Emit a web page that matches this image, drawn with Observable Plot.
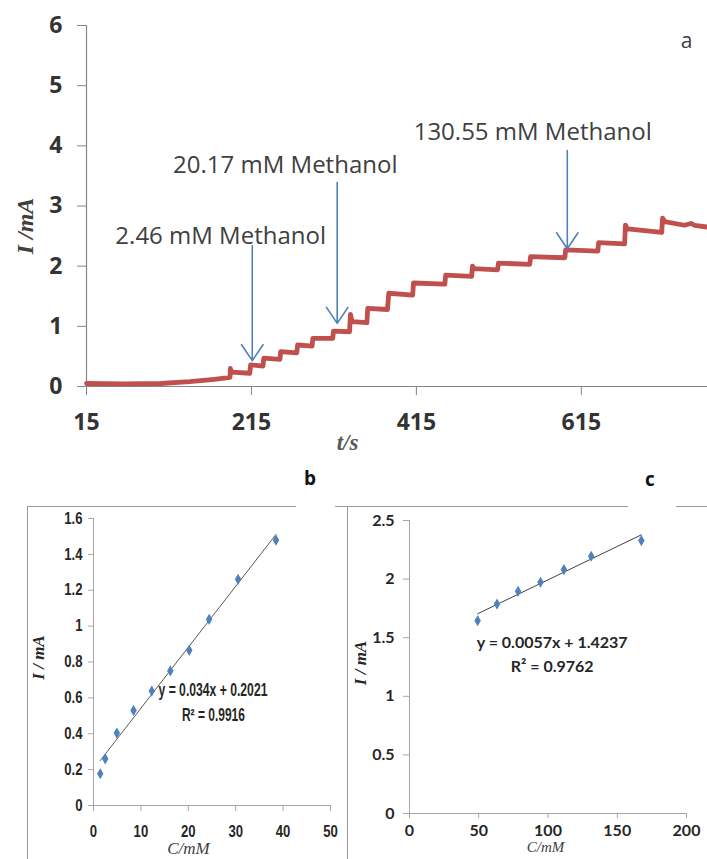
<!DOCTYPE html>
<html><head><meta charset="utf-8">
<script src="https://cdn.jsdelivr.net/npm/d3@7"></script>
<script src="https://cdn.jsdelivr.net/npm/@observablehq/plot@0.6"></script>
<style>
body{margin:0;background:#fff;}
#root{position:relative;width:707px;height:859px;overflow:hidden;background:#fff;}
.pa{position:absolute;}
.hl{position:absolute;height:1px;background:#9a9a9a;}
.vl{position:absolute;width:1px;background:#9a9a9a;}
.letter{position:absolute;font:bold 19px "Open Sans",sans-serif;color:#111;transform:translate(-50%,-50%);line-height:1;}
</style></head><body><div id="root"></div>
<script>
// ---------- Panel a: amperometric trace ----------
const traceTime = [15,60,105,140,170,189,189.5,191,213,214,229,230,249.5,250.5,270,271,288.5,289.5,313.5,314.5,334,335,337,355,356,380,381.5,410.5,411.5,449.5,450.5,482,483,485,513.5,514.5,552.5,553.5,595,596,635,636,667.5,668.5,671,712.5,713.5,716,740,748,752,768];
const traceCurrent = [0.05,0.045,0.05,0.08,0.12,0.15,0.30,0.24,0.22,0.36,0.34,0.47,0.45,0.58,0.56,0.69,0.67,0.80,0.80,0.92,0.91,1.20,1.08,1.06,1.30,1.28,1.55,1.52,1.72,1.70,1.85,1.83,2.00,1.96,1.94,2.05,2.03,2.16,2.14,2.27,2.25,2.39,2.37,2.68,2.62,2.56,2.80,2.74,2.68,2.71,2.68,2.65];
const timeTicks = [15,215,415,615];
const currentTicksA = [0,1,2,3,4,5,6];

const annotLabels = ["2.46 mM Methanol","20.17 mM Methanol","130.55 mM Methanol"];
const annotArrowTime = [216,319,598];
const annotTailCurrent = [2.34,3.39,3.92];
const annotTipCurrent = [0.43,1.05,2.29];
const annotTextTime = [50,120,411.7];
const annotTextCurrent = [2.49,3.67,4.22];

// ---------- Panel b: calibration 1.42-38.5 mM ----------
const concB = [1.42,2.47,4.93,8.45,12.3,16.2,20.2,24.4,30.5,38.5];
const currentB = [0.177,0.26,0.404,0.53,0.638,0.75,0.865,1.038,1.261,1.479];
const slopeB = 0.034, interceptB = 0.2021;
const eqB = ["y = 0.034x + 0.2021","R² = 0.9916"];
const xTicksB = [0,10,20,30,40,50];
const yTicksB = [0,0.2,0.4,0.6,0.8,1,1.2,1.4,1.6];

// ---------- Panel c: calibration 49-167 mM ----------
const concC = [49.2,63.2,78.4,94.6,111.5,131.2,167.4];
const currentC = [1.645,1.787,1.896,1.973,2.081,2.195,2.329];
const slopeC = 0.0057, interceptC = 1.4237;
const eqC = ["y = 0.0057x + 1.4237","R² = 0.9762"];
const xTicksC = [0,50,100,150,200];
const yTicksC = [0,0.5,1,1.5,2,2.5];

const root = document.getElementById("root");
function place(el, left, top){ el.classList.add("pa"); el.style.left=left+"px"; el.style.top=top+"px"; root.appendChild(el); }
const fmt = d => String(d);

// Panel a
const trace = traceTime.map((t,i)=>({t, I: traceCurrent[i]}));
const annots = annotLabels.map((label,i)=>({label, t: annotArrowTime[i], tail: annotTailCurrent[i], tip: annotTipCurrent[i], tt: annotTextTime[i], ti: annotTextCurrent[i]}));
const axisGrayA = "#868686";
const plotA = Plot.plot({
  width: 707, height: 460,
  marginLeft: 86, marginRight: 0, marginTop: 25, marginBottom: 74,
  x: {domain: [15, 768]},
  y: {domain: [0, 6]},
  style: {fontFamily: '"Open Sans", sans-serif', fontSize: "23px", fontWeight: "bold", color: "#333", background: "transparent", overflow: "visible"},
  marks: [
    Plot.ruleY([0], {stroke: axisGrayA, strokeWidth: 1.2}),
    Plot.ruleX([15], {stroke: axisGrayA, strokeWidth: 1.2}),
    Plot.axisY({ticks: currentTicksA, tickFormat: fmt, tickSize: 9, tickPadding: 15, stroke: axisGrayA, fill: "#333", label: null}),
    Plot.axisX({ticks: timeTicks, tickFormat: fmt, tickSize: 9, tickPadding: 18, stroke: axisGrayA, fill: "#333", label: null}),
    Plot.line(trace, {x: "t", y: "I", stroke: "#c0504d", strokeWidth: 4.8, strokeLinejoin: "round"}),
    Plot.arrow(annots, {x1: "t", x2: "t", y1: "tail", y2: "tip", stroke: "#4f81bd", strokeWidth: 1.6, headLength: 18, headAngle: 68}),
    Plot.text(annots, {x: "tt", y: "ti", text: "label", textAnchor: "start", fontWeight: "normal", fontSize: 24, fill: "#404040"}),
    Plot.text(["a"], {text: d=>d, frameAnchor: "top-right", textAnchor: "middle", dx: -21, dy: 8, fontWeight: "normal", fontSize: 21, fill: "#404040"}),
    Plot.text(["I /mA"], {text: d=>d, frameAnchor: "left", textAnchor: "middle", rotate: -90, dx: -61, dy: 20, fontFamily: '"Liberation Serif", serif', fontStyle: "italic", fontWeight: "bold", fontSize: 24, fill: "#404040"}),
    Plot.text(["t/s"], {text: d=>d, frameAnchor: "bottom", textAnchor: "middle", dx: -49.5, dy: 63, fontFamily: '"Liberation Serif", serif', fontStyle: "italic", fontWeight: "bold", fontSize: 23, fill: "#595959"})
  ]
});
place(plotA, 0, 0);

// Frames for b and c
function line(cls, l, t, w, h){ const d=document.createElement("div"); d.className=cls; d.style.left=l+"px"; d.style.top=t+"px"; if(w!=null) d.style.width=w+"px"; if(h!=null) d.style.height=h+"px"; root.appendChild(d); }
line("hl", 27, 506, 269, null);
line("hl", 335, 506, 12, null);
line("hl", 347, 506, 281, null);
line("hl", 676, 506, 31, null);
line("vl", 27, 506, null, 353);
line("vl", 347, 506, null, 353);

function letter(txt, x, y){ const d=document.createElement("div"); d.className="letter"; d.textContent=txt; d.style.left=x+"px"; d.style.top=y+"px"; root.appendChild(d); }
letter("b", 310, 478);
letter("c", 650, 479);

// Panel b
const ptsB = concB.map((c,i)=>({c, I: currentB[i]}));
const fitB = d3.extent(concB).map(c=>({c, I: slopeB*c + interceptB}));
const axisGrayB = "#a6a6a6";
const plotB = Plot.plot({
  width: 347, height: 359,
  marginLeft: 93, marginRight: 17, marginTop: 18, marginBottom: 54,
  x: {domain: [0, 50]},
  y: {domain: [0, 1.6]},
  style: {fontFamily: '"Liberation Sans Narrow", "Liberation Sans", sans-serif', fontSize: "16px", fontWeight: "bold", color: "#262626", background: "transparent", overflow: "visible"},
  marks: [
    Plot.ruleY([0], {stroke: axisGrayB}),
    Plot.ruleX([0], {stroke: axisGrayB}),
    Plot.axisY({ticks: yTicksB, tickFormat: fmt, tickSize: 5, tickPadding: 6, stroke: axisGrayB, fill: "#262626", label: null}),
    Plot.axisX({ticks: xTicksB, tickFormat: fmt, tickSize: 6, tickPadding: 14, stroke: axisGrayB, fill: "#262626", label: null}),
    Plot.line(fitB, {x: "c", y: "I", stroke: "#595959", strokeWidth: 1}),
    Plot.dot(ptsB, {x: "c", y: "I", symbol: "diamond", fill: "#4f81bd", r: 3.4}),
    Plot.text([eqB[0]], {text: d=>d, x: () => 25.2, y: () => 0.642, fontSize: 18, fill: "#262626"}),
    Plot.text([eqB[1]], {text: d=>d, x: () => 25.3, y: () => 0.502, fontSize: 18, fill: "#262626"}),
    Plot.text(["I / mA"], {text: d=>d, frameAnchor: "left", textAnchor: "middle", rotate: -90, dx: -55, dy: -4.5, fontFamily: '"Liberation Serif", serif', fontStyle: "italic", fontWeight: "bold", fontSize: 17, fill: "#262626"}),
    Plot.text(["C/mM"], {text: d=>d, frameAnchor: "bottom", textAnchor: "middle", dx: -23.5, dy: 48.5, fontFamily: '"Liberation Serif", serif', fontStyle: "italic", fontWeight: "normal", fontSize: 17, fill: "#404040"})
  ]
});
place(plotB, 0, 500);

// Condense panel b's bold sans texts horizontally (the reference uses a narrow face)
function condense(t, s) {
  const xa = t.getAttribute("x");
  let x = 0;
  if (xa != null && /^-?[\d.]+$/.test(xa.trim())) { x = +xa; t.removeAttribute("x"); }
  const tr = t.getAttribute("transform") || "";
  t.setAttribute("transform", `${tr} translate(${x},0) scale(${s},1)`);
}
const eqTargetWidth = {[eqB[0]]: 109, [eqB[1]]: 63};
plotB.querySelectorAll("text").forEach(t => {
  const s = t.textContent;
  if (s === "I / mA" || s === "C/mM") return;
  const w = t.getComputedTextLength();
  if (!(w > 0)) return;
  if (s in eqTargetWidth) condense(t, eqTargetWidth[s] / w);
  else condense(t, 0.82);
});

// Panel c
const ptsC = concC.map((c,i)=>({c, I: currentC[i]}));
const fitC = d3.extent(concC).map(c=>({c, I: slopeC*c + interceptC}));
const plotC = Plot.plot({
  width: 360, height: 359,
  marginLeft: 62, marginRight: 21, marginTop: 20, marginBottom: 46,
  x: {domain: [0, 200]},
  y: {domain: [0, 2.5]},
  style: {fontFamily: 'Lato, "Open Sans", sans-serif', fontSize: "16px", fontWeight: "bold", color: "#262626", background: "transparent", overflow: "visible"},
  marks: [
    Plot.ruleY([0], {stroke: axisGrayB}),
    Plot.ruleX([0], {stroke: axisGrayB}),
    Plot.axisY({ticks: yTicksC, tickFormat: fmt, tickSize: 6, tickPadding: 9, stroke: axisGrayB, fill: "#262626", label: null}),
    Plot.axisX({ticks: xTicksC, tickFormat: fmt, tickSize: 5, tickPadding: 6, stroke: axisGrayB, fill: "#262626", label: null}),
    Plot.line(fitC, {x: "c", y: "I", stroke: "#404040", strokeWidth: 1}),
    Plot.dot(ptsC, {x: "c", y: "I", symbol: "diamond", fill: "#4f81bd", r: 3.4}),
    Plot.text([eqC[0]], {text: d=>d, x: () => 103, y: () => 1.452, fontSize: 16, fill: "#262626"}),
    Plot.text([eqC[1]], {text: d=>d, x: () => 103, y: () => 1.249, fontSize: 16, fill: "#262626"}),
    Plot.text(["I / mA"], {text: d=>d, frameAnchor: "left", textAnchor: "middle", rotate: -90, dx: -49, dy: -4, fontFamily: '"Liberation Serif", serif', fontStyle: "italic", fontWeight: "bold", fontSize: 17, fill: "#262626"}),
    Plot.text(["C/mM"], {text: d=>d, frameAnchor: "bottom", textAnchor: "middle", dx: -2.5, dy: 38.5, fontFamily: '"Liberation Serif", serif', fontStyle: "italic", fontWeight: "normal", fontSize: 15, fill: "#404040"})
  ]
});
place(plotC, 347, 500);
</script>
</body></html>
